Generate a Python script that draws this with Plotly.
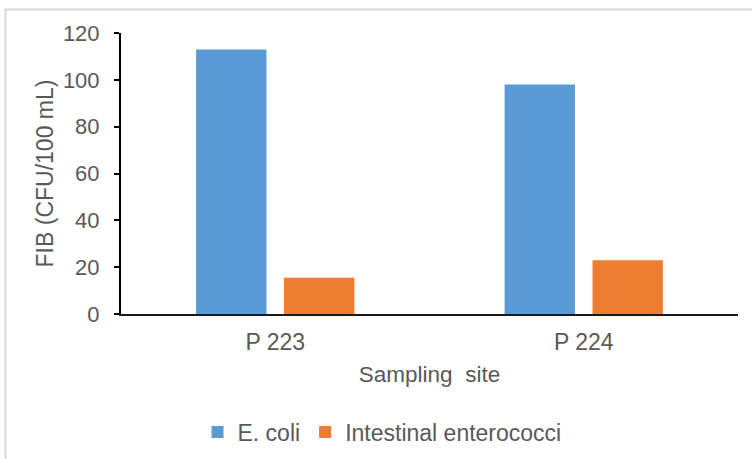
import plotly.graph_objects as go

# Fecal indicator bacteria counts per sampling site
sites = ["P 223", "P 224"]
ecoli = [113, 98]
enterococci = [15.5, 23]

W, H = 752, 459
ML, MR, MT, MB = 121, 14, 33, 145
PW, PH = W - ML - MR, H - MT - MB


def px_x(p):
    return (p - ML) / PW


def px_y(p):
    return (H - MB - p) / PH


FONT = "Arial, Liberation Sans, sans-serif"
GREY = "#595959"
FS = 23

fig = go.Figure()
fig.add_trace(go.Bar(x=sites, y=ecoli, name="E. coli", marker=dict(color="#5B9BD5", line=dict(width=0))))
fig.add_trace(go.Bar(x=sites, y=enterococci, name="Intestinal enterococci", marker=dict(color="#ED7D31", line=dict(width=0))))

fig.update_layout(
    width=W, height=H,
    margin=dict(l=ML, r=MR, t=MT, b=MB, autoexpand=False),
    paper_bgcolor="white", plot_bgcolor="white",
    barmode="group", bargap=0.43, bargroupgap=0.2,
    font=dict(family=FONT, size=FS, color=GREY),
    showlegend=True,
    legend=dict(orientation="h", x=px_x(382), xanchor="center", y=px_y(432), yanchor="middle",
                font=dict(size=FS, color=GREY), itemwidth=30, itemsizing="constant",
                traceorder="normal", bgcolor="rgba(0,0,0,0)"),
    xaxis=dict(showline=True, linecolor="#1a1a1a", linewidth=2, ticks="", showgrid=False,
               automargin=False,
               tickfont=dict(size=FS, color=GREY), ticklabelstandoff=6,
               title=dict(text="Sampling\u00a0\u00a0site", font=dict(size=22.5, color=GREY), standoff=13)),
    yaxis=dict(range=[0, 120], dtick=20, showline=True, linecolor="#000000", linewidth=2,
               automargin=False,
               ticks="outside", ticklen=5, tickwidth=1.5, tickcolor="#000000", showgrid=False,
               zeroline=False, tickfont=dict(size=22, color=GREY), ticklabelstandoff=10,
               title=dict(text="FIB (CFU/100 mL)", font=dict(size=FS, color=GREY), standoff=3)),
    shapes=[dict(type="rect", xref="paper", yref="paper",
                 x0=px_x(5.5), x1=px_x(770), y0=px_y(480), y1=px_y(9.5),
                 line=dict(color="#D9D9D9", width=2), fillcolor="rgba(0,0,0,0)", layer="below")],
)

fig.write_html("out.html")
